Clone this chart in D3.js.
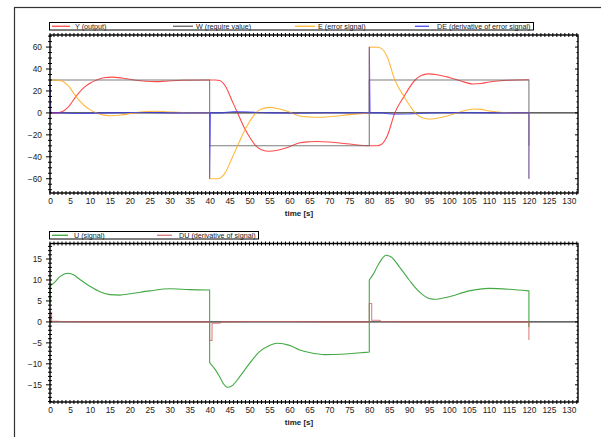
<!DOCTYPE html>
<html>
<head>
<meta charset="utf-8">
<script src="https://cdn.jsdelivr.net/npm/d3@7"></script>
<style>
  body { margin: 0; background: #fff; }
  text { font-family: "Liberation Sans", Arial, sans-serif; fill: #222; }
</style>
</head>
<body>
<div class="chart"></div>
<script>
// [time, value] pairs; repeated time = vertical jump
var wRequire = [[0,30],[40,30],[40,-30],[80,-30],[80,30],[120,30],[120,-30]];

var yOutput = [
  [0,0],[2,0.2],[3,1],[4.5,5],[6.5,15],[8.5,23],[10,27],[11.7,30],[13.5,32],[15.5,32.6],[18,31.8],[21,30],[24,28.8],[26.5,28.5],[29,28.9],[33,29.7],[40,30],
  [41.5,30],[42.5,29.5],[44,24],[45.5,12],[47,0],[48.9,-15],[50,-22],[51.6,-30],[53,-33.5],[55,-35],[57,-34],[60,-30.8],[62.6,-27.2],[65,-26.3],[67,-26],[70,-26.5],[75,-28.4],[80,-30],
  [82,-29.9],[83,-28.8],[84.5,-21],[86.4,0],[88.7,15],[91.5,30],[93,34],[94.7,35.6],[97,34.8],[100,32.3],[103,29],[106,26.4],[108,26.8],[110,28.2],[115,29.8],[120,30.2]
];

var eError = [
  [0,30],[2,29.8],[3,29],[4.5,25],[6.5,15],[8.5,7],[10,3],[11.7,0],[13.5,-2],[15.5,-2.6],[18,-1.8],[21,0],[24,1.2],[26.5,1.5],[29,1.1],[33,0.3],[40,0],
  [40,-60],[41.5,-60],[42.5,-59.5],[44,-54],[45.5,-42],[47,-30],[48.9,-15],[50,-8],[51.6,0],[53,3.5],[55,5],[57,4],[60,0.8],[62.6,-2.8],[65,-3.7],[67,-4],[70,-3.5],[75,-1.6],[80,0],
  [80,60],[82,59.9],[83,58.8],[84.5,51],[86.4,30],[88.7,15],[91.5,0],[93,-4],[94.7,-5.6],[97,-4.8],[100,-2.3],[103,1],[106,3.6],[108,3.2],[110,1.8],[115,0.2],[120,-0.2],
  [120,-60]
];

var deError = [
  [0,30],[0.2,0],[3,0],[6,-0.5],[9,-0.4],[12,-0.2],[15,0],[20,0.3],[25,0.3],[30,0],[40,0],
  [40,-60],[40.2,0],[43,0],[46,1.3],[49,1.1],[52,0.4],[56,0],[62,-0.3],[70,0.1],[80,0],
  [80,60],[80.2,0],[83,0],[86,-1.2],[90,-1],[94,-0.3],[100,0.3],[110,0],[120,0],[120,-60]
];

var uSignal = [
  [0,4.5],[0,8.5],[1,9.3],[2.5,10.8],[4.5,11.6],[6,11.2],[7.5,10.1],[10,8.5],[12.5,7.2],[15,6.5],[17.5,6.4],[20,6.7],[25,7.4],[30,7.9],[35,7.7],[40,7.6],
  [40,-9.7],[41.5,-11.5],[42.5,-13.1],[43.5,-14.8],[44.5,-15.6],[45.5,-15.3],[47.5,-13.1],[50,-9.9],[52.5,-7.1],[55,-5.6],[57,-5.1],[60,-5.6],[62.6,-6.7],[65,-7.3],[69,-7.8],[73,-7.7],[77,-7.4],[80,-7.2],
  [80,10],[81,11.4],[82,13.2],[83,14.8],[84.2,15.9],[85.5,15.5],[87.5,13.2],[90,10],[92.5,7.2],[95,5.6],[96.5,5.4],[98,5.6],[100,6],[105,7.4],[110,8],[115,7.8],[120,7.4],
  [120,-1.2]
];

var duSignal = [
  [0,0],[0,2.3],[0.4,2.3],[0.4,0.2],[3,0.1],[10,0],[40,0],
  [40,-4.4],[40.6,-4.4],[40.6,-0.3],[42.5,-0.3],[43,0],[50,0.1],[60,0.1],[70,0],[80,0],
  [80,4.4],[80.6,4.4],[80.6,0.4],[82.5,0.4],[83,0.1],[90,0],[120,0],[120,-4.3]
];

var xTicks = d3.range(0, 131, 5);
var yTicksTop = [-60, -40, -20, 0, 20, 40, 60];
var yTicksBottom = [-15, -10, -5, 0, 5, 10, 15];

var legendTop = [
  {name: "Y (output)", color: "#ff3b3b", x1: 52, x2: 70, tx: 75},
  {name: "W (require value)", color: "#555", x1: 173, x2: 193, tx: 196},
  {name: "E (error signal)", color: "#ffb224", x1: 295, x2: 315, tx: 318},
  {name: "DE (derivative of error signal)", color: "#3a3aff", x1: 415, x2: 429, tx: 437}
];
var legendBottom = [
  {name: "U (signal)", color: "#2e9e2e", x1: 52, x2: 68, tx: 74},
  {name: "DU (derivative of signal)", color: "#d46a6a", x1: 157, x2: 172, tx: 179}
];

var svg = d3.select(".chart").append("svg")
  .attr("width", 601)
  .attr("height", 437);

// outer frame
svg.append("rect")
  .attr("x", 14.5).attr("y", 7.5)
  .attr("width", 620).attr("height", 450)
  .attr("fill", "none")
  .attr("stroke", "#333")
  .attr("stroke-width", 1.2);

var x = d3.scaleLinear().domain([0, 132.3]).range([50, 578]);

function pathOf(pts, xs, ys, curve) {
  var runs = [], cur = [pts[0]];
  for (var i = 1; i < pts.length; i++) {
    if (pts[i][0] === pts[i - 1][0]) { runs.push(cur); cur = [pts[i]]; }
    else cur.push(pts[i]);
  }
  runs.push(cur);
  var ln = d3.line().x(d => xs(d[0])).y(d => ys(d[1])).curve(curve);
  return runs.map(function(r, i) {
    var s = ln(r).replace(/Z/g, "");
    return i ? "L" + s.slice(1) : s;
  }).join("");
}

function drawPanel(top, bottom, yDomain, yTicks, yMinorStep, series, legend, legY) {
  var y = d3.scaleLinear().domain(yDomain).range([bottom, top]);
  var g = svg.append("g");

  // legend box
  g.append("rect")
    .attr("x", 49.5).attr("y", legY)
    .attr("width", legend.boxW).attr("height", 7.5)
    .attr("fill", "#fff").attr("stroke", "#000").attr("stroke-width", 1);
  legend.items.forEach(function(d) {
    g.append("line")
      .attr("x1", d.x1).attr("x2", d.x2)
      .attr("y1", legY + 3.75).attr("y2", legY + 3.75)
      .attr("stroke", d.color).attr("stroke-width", 1.2);
    g.append("text")
      .attr("x", d.tx).attr("y", legY + 6.4)
      .attr("font-size", 7.2)
      .text(d.name);
  });

  // zero line
  g.append("line")
    .attr("x1", x.range()[0]).attr("x2", x.range()[1])
    .attr("y1", y(0)).attr("y2", y(0))
    .attr("stroke", "#000").attr("stroke-width", 1);

  series.forEach(function(s) {
    g.append("path")
      .attr("d", pathOf(s.data, x, y, s.curve))
      .attr("fill", "none")
      .attr("stroke", s.color)
      .attr("stroke-width", 1.1)
      .attr("stroke-opacity", s.opacity || 0.85);
  });

  // frame
  g.append("rect")
    .attr("x", 50).attr("y", top)
    .attr("width", 528).attr("height", bottom - top)
    .attr("fill", "none").attr("stroke", "#000").attr("stroke-width", 1.4);

  // minor ticks on top and bottom edges
  d3.range(0, 133, 1).forEach(function(t) {
    [top, bottom].forEach(function(edge) {
      g.append("line")
        .attr("x1", x(t)).attr("x2", x(t))
        .attr("y1", edge - 2).attr("y2", edge + 2)
        .attr("stroke", "#000").attr("stroke-width", 1);
    });
  });

  // minor ticks left and right
  var minor = d3.range(Math.ceil(yDomain[0] / yMinorStep) * yMinorStep, yDomain[1], yMinorStep);
  minor.forEach(function(v) {
    var major = yTicks.indexOf(v) >= 0;
    g.append("line")
      .attr("x1", major ? 46 : 48).attr("x2", 52)
      .attr("y1", y(v)).attr("y2", y(v))
      .attr("stroke", "#000").attr("stroke-width", 1);
    g.append("line")
      .attr("x1", 578).attr("x2", major ? 575 : 576.5)
      .attr("y1", y(v)).attr("y2", y(v))
      .attr("stroke", "#000").attr("stroke-width", 1);
  });

  var xAxis = d3.axisBottom(x).tickValues(xTicks).tickSize(0).tickPadding(5);
  var xg = g.append("g")
    .attr("transform", `translate(0, ${bottom})`)
    .call(xAxis);
  xg.select(".domain").remove();
  xg.selectAll("text").attr("font-size", 8.4).attr("fill", "#222").attr("font-family", "Liberation Sans, Arial, sans-serif");

  var yAxis = d3.axisLeft(y).tickValues(yTicks).tickSize(0).tickPadding(8);
  var yg = g.append("g")
    .attr("transform", "translate(50, 0)")
    .call(yAxis);
  yg.select(".domain").remove();
  yg.selectAll("text").attr("font-size", 8.4).attr("fill", "#222").attr("font-family", "Liberation Sans, Arial, sans-serif");

  g.append("text")
    .attr("x", 299).attr("y", bottom + 23)
    .attr("text-anchor", "middle")
    .attr("font-size", 8)
    .attr("font-weight", "bold")
    .text("time [s]");
}

drawPanel(35, 193, [-73, 71], yTicksTop, 5, [
  {data: yOutput, color: "#ff2b2b", curve: d3.curveMonotoneX},
  {data: wRequire, color: "#666", curve: d3.curveLinear},
  {data: eError, color: "#ffae1a", curve: d3.curveMonotoneX},
  {data: deError, color: "#2f2fff", curve: d3.curveLinear, opacity: 0.7}
], {boxW: 484, items: legendTop}, 22.5);

drawPanel(243.5, 402, [-19.1, 18.7], yTicksBottom, 1, [
  {data: uSignal, color: "#239a23", curve: d3.curveMonotoneX},
  {data: duSignal, color: "#d05a5a", curve: d3.curveLinear, opacity: 0.75}
], {boxW: 209, items: legendBottom}, 231.5);
</script>
</body>
</html>
